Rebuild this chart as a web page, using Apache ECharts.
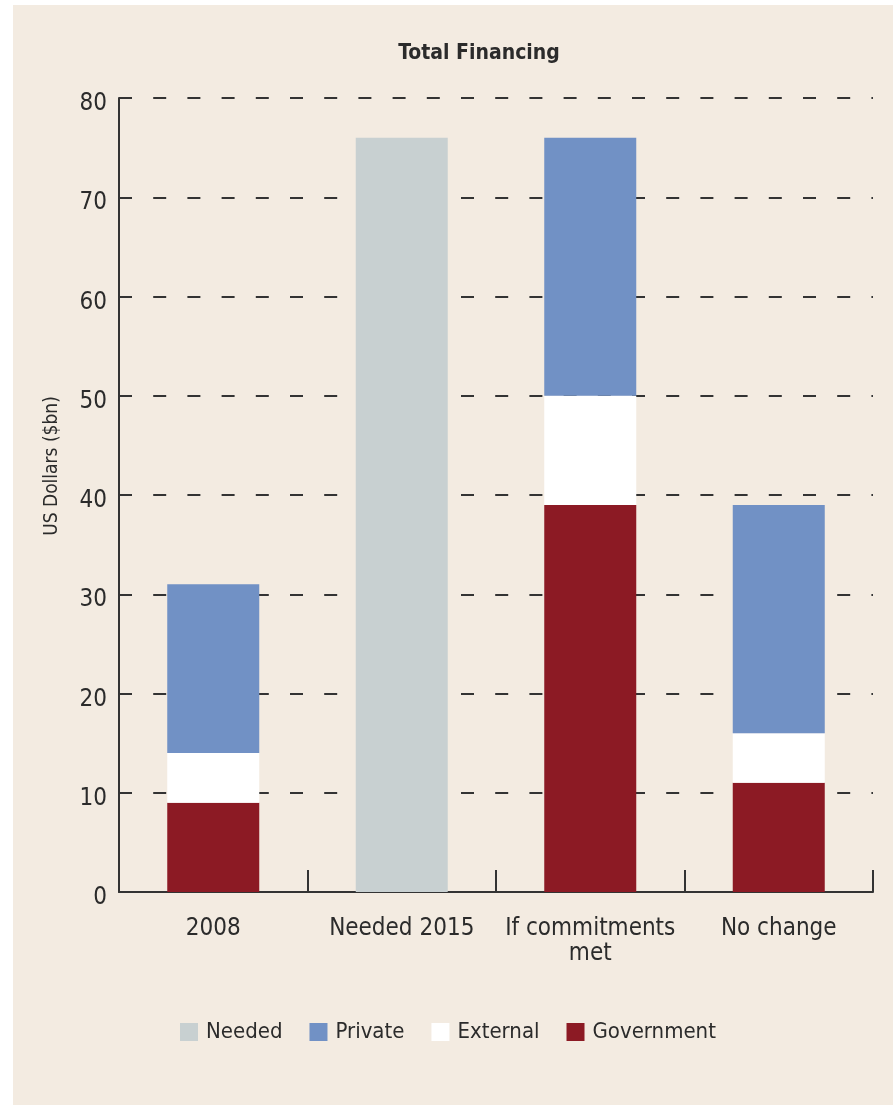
<!DOCTYPE html>
<html>
<head>
<meta charset="utf-8">
<title>Total Financing</title>
<script src="https://cdn.jsdelivr.net/npm/echarts@6/dist/echarts.min.js"></script>
<style>
  html, body { margin: 0; padding: 0; background: #ffffff; }
  #panel { position: absolute; left: 13px; top: 5px; width: 880px; height: 1100px; background: #f3ebe1; }
  #chart { position: absolute; left: 0; top: 0; width: 893px; height: 1105px; }
</style>
</head>
<body>
<div id="panel"></div>
<div id="chart"></div>
<script>
const categories = ["2008", "Needed 2015", "If commitments\nmet", "No change"]
const government = [9, null, 39, 11]
const external = [5, null, 11, 5]
const privateFin = [17, null, 26, 23]
const needed = [null, 76, null, null]
const yTicks = [0, 10, 20, 30, 40, 50, 60, 70, 80]

const FONT = "'DejaVu Sans Condensed', 'DejaVu Sans', sans-serif"
const INK = "#2b2b2b"

const chart = echarts.init(document.getElementById("chart"))

const barBase = { type: "bar", stack: "total", barWidth: 92 }

const option = {
  backgroundColor: "transparent",
  animation: false,
  title: {
    text: "Total Financing",
    left: 474,
    top: 38,
    textAlign: "center",
    textStyle: { fontFamily: FONT, fontWeight: "bold", fontSize: 21, color: INK },
  },
  grid: { left: 119, right: 20, top: 98, bottom: 213 },
  legend: {
    data: ["Needed", "Private", "External", "Government"],
    left: 175,
    top: 1016,
    icon: "rect",
    itemWidth: 18,
    itemHeight: 18,
    itemGap: 27,
    textStyle: { fontFamily: FONT, fontSize: 22, color: INK, padding: [0, 0, 0, 3] },
  },
  xAxis: {
    type: "category",
    data: categories,
    axisLine: { lineStyle: { color: "#333", width: 2 } },
    axisTick: { show: true, interval: 0, alignWithLabel: false, inside: true, length: 22, lineStyle: { color: "#333", width: 2 } },
    axisLabel: { fontFamily: FONT, fontSize: 24, color: INK, margin: 24, lineHeight: 25, interval: 0 },
  },
  yAxis: {
    type: "value",
    min: yTicks[0],
    max: yTicks[yTicks.length - 1],
    interval: 10,
    axisLine: { show: true, lineStyle: { color: "#333", width: 2 } },
    axisTick: { show: false },
    axisLabel: { fontFamily: FONT, fontSize: 24, color: INK, margin: 12, verticalAlign: "top", lineHeight: 12 },
    splitLine: { lineStyle: { color: "#333", width: 2, type: [13, 21.2] } },
  },
  graphic: [
    {
      type: "text",
      x: 52,
      y: 466,
      rotation: Math.PI / 2,
      style: {
        text: "US Dollars ($bn)",
        fontFamily: FONT,
        fontSize: 19,
        fill: INK,
        align: "center",
        verticalAlign: "middle",
      },
    },
  ],
  series: [
    { ...barBase, name: "Government", data: government, itemStyle: { color: "#8c1a24" } },
    { ...barBase, name: "External", data: external, itemStyle: { color: "#ffffff" } },
    { ...barBase, name: "Private", data: privateFin, itemStyle: { color: "#7191c5" } },
    { ...barBase, name: "Needed", data: needed, itemStyle: { color: "#c8d0d1" } },
  ],
}

chart.setOption(option)
</script>
</body>
</html>
